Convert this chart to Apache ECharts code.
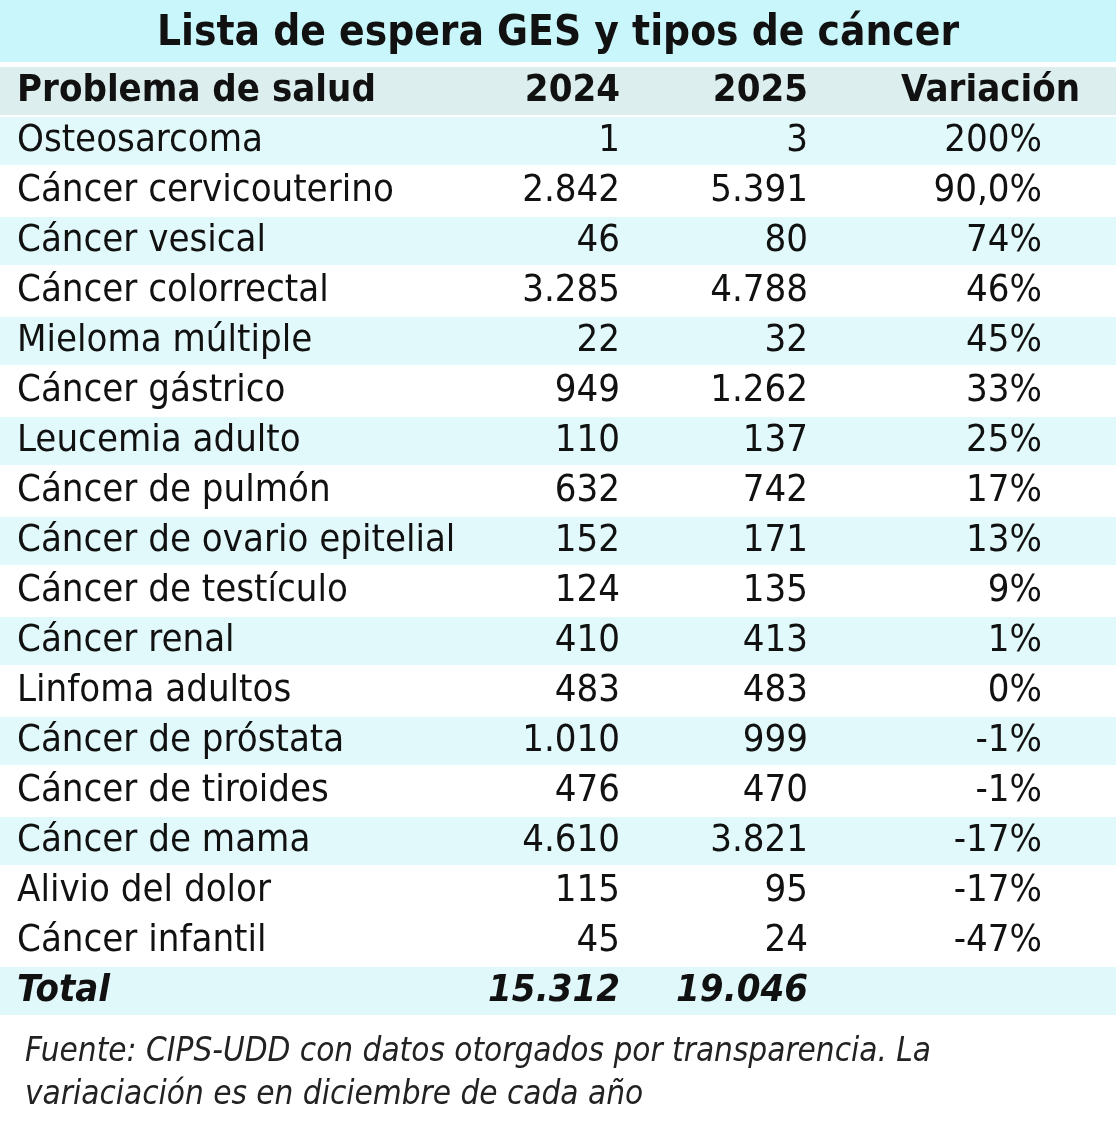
<!DOCTYPE html>
<html>
<head>
<meta charset="utf-8">
<script src="https://cdn.jsdelivr.net/npm/echarts@6/dist/echarts.min.js"></script>
<style>
    html, body { margin: 0; padding: 0; background: #fff; }
    #chart { width: 1116px; height: 1125px; }
</style>
</head>
<body>
<div id="chart"></div>
<script>
    // datos de la tabla
    const headers = ['Problema de salud', '2024', '2025', 'Variación']
    const problemas = ['Osteosarcoma', 'Cáncer cervicouterino', 'Cáncer vesical', 'Cáncer colorrectal',
        'Mieloma múltiple', 'Cáncer gástrico', 'Leucemia adulto', 'Cáncer de pulmón',
        'Cáncer de ovario epitelial', 'Cáncer de testículo', 'Cáncer renal', 'Linfoma adultos',
        'Cáncer de próstata', 'Cáncer de tiroides', 'Cáncer de mama', 'Alivio del dolor', 'Cáncer infantil']
    const valores2024 = ['1', '2.842', '46', '3.285', '22', '949', '110', '632', '152', '124', '410', '483', '1.010', '476', '4.610', '115', '45']
    const valores2025 = ['3', '5.391', '80', '4.788', '32', '1.262', '137', '742', '171', '135', '413', '483', '999', '470', '3.821', '95', '24']
    const variacion = ['200%', '90,0%', '74%', '46%', '45%', '33%', '25%', '17%', '13%', '9%', '1%', '0%', '-1%', '-1%', '-17%', '-17%', '-47%']
    const total = ['Total', '15.312', '19.046', '']

    const font = '"Liberation Sans Narrow", "DejaVu Sans Condensed", sans-serif'

    // filas: 0 = cabecera, 1..17 = datos, 18 = total
    const rows = [['header', ...headers]]
    problemas.forEach((p, i) => rows.push(['row', p, valores2024[i], valores2025[i], variacion[i]]))
    rows.push(['total', ...total])
    const rowIdx = rows.map((r, i) => i)

    const chart = echarts.init(document.getElementById('chart'))

    function renderItem(params, api) {
        const i = api.value(0)
        const r = rows[i]
        const c = api.coord([0, i])
        const h = api.size([0, 1])[1]
        const w = 1116
        let fill = '#fff'
        if (r[0] === 'header') fill = '#dceeee'
        else if (r[0] === 'total') fill = '#e0f8fa'
        else if ((i - 1) % 2 === 0 && i !== 17) fill = '#e2f9fb'
        const bold = r[0] !== 'row'
        const style = {
            fontFamily: font,
            fontSize: 38,
            fontWeight: bold ? 'bold' : 'normal',
            fontStyle: r[0] === 'total' ? 'italic' : 'normal',
            fill: '#111',
            verticalAlign: 'middle'
        }
        const y = c[1]
        const cellRight = r[0] === 'header' ? [620, 808, 1080] : [620, 808, 1042]
        const children = [
            { type: 'rect', shape: { x: 0, y: y - h / 2 + 1, width: w, height: h - 2 }, style: { fill: fill } },
            { type: 'text', style: Object.assign({}, style, { text: r[1], x: 17, y: y, align: 'left' }) }
        ]
        for (let k = 0; k < 3; k++) {
            children.push({ type: 'text', style: Object.assign({}, style, { text: r[k + 2], x: cellRight[k], y: y, align: 'right' }) })
        }
        return { type: 'group', children: children }
    }

    chart.setOption({
        title: [{
            text: 'Lista de espera GES y tipos de cáncer',
            left: 'center',
            top: 8,
            textStyle: { fontFamily: font, fontSize: 42, fontWeight: 'bold', color: '#111' }
        }, {
            text: 'Fuente: CIPS-UDD con datos otorgados por transparencia. La\nvariaciación es en diciembre de cada año',
            left: 20,
            top: 1026,
            textStyle: { fontFamily: font, fontSize: 33, fontStyle: 'italic', fontWeight: 'normal', color: '#222', lineHeight: 43 }
        }],
        graphic: [{
            type: 'rect', left: 0, top: 0, z: -1,
            shape: { width: 1116, height: 62 },
            style: { fill: '#c8f6fa' }
        }],
        grid: { left: 0, right: 0, top: 66, bottom: 109 },
        xAxis: { type: 'value', min: 0, max: 1116, show: false },
        yAxis: { type: 'category', data: rowIdx, inverse: true, show: false },
        series: [{
            type: 'custom',
            renderItem: renderItem,
            data: rowIdx.map(i => [i]),
            encode: { y: 0 },
            silent: true
        }]
    })
</script>
</body>
</html>
